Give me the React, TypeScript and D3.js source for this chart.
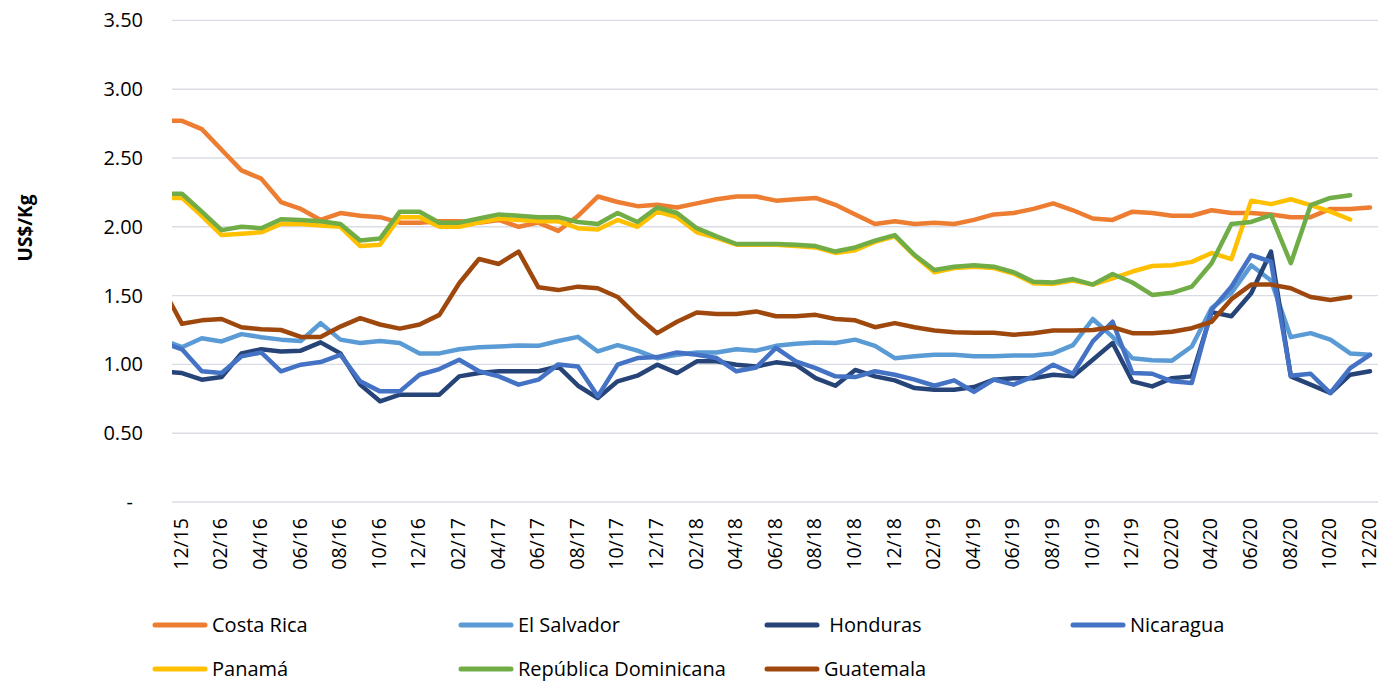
import { line, scaleLinear, scalePoint } from "d3";

// first month (11/15) sits just left of the plot area and is clipped away
const months = [
  "11/15", "12/15",
  "01/16", "02/16", "03/16", "04/16", "05/16", "06/16", "07/16", "08/16", "09/16", "10/16", "11/16", "12/16",
  "01/17", "02/17", "03/17", "04/17", "05/17", "06/17", "07/17", "08/17", "09/17", "10/17", "11/17", "12/17",
  "01/18", "02/18", "03/18", "04/18", "05/18", "06/18", "07/18", "08/18", "09/18", "10/18", "11/18", "12/18",
  "01/19", "02/19", "03/19", "04/19", "05/19", "06/19", "07/19", "08/19", "09/19", "10/19", "11/19", "12/19",
  "01/20", "02/20", "03/20", "04/20", "05/20", "06/20", "07/20", "08/20", "09/20", "10/20", "11/20", "12/20",
];

const tickLabels = [
  "12/15", "02/16", "04/16", "06/16", "08/16", "10/16", "12/16",
  "02/17", "04/17", "06/17", "08/17", "10/17", "12/17",
  "02/18", "04/18", "06/18", "08/18", "10/18", "12/18",
  "02/19", "04/19", "06/19", "08/19", "10/19", "12/19",
  "02/20", "04/20", "06/20", "08/20", "10/20", "12/20",
];

const yTicks = [0, 0.5, 1, 1.5, 2, 2.5, 3, 3.5];

const costaRica = [
  2.77, 2.77, 2.71, 2.56, 2.41, 2.35, 2.18, 2.13, 2.05, 2.1, 2.08, 2.07, 2.03, 2.03,
  2.04, 2.04, 2.03, 2.05, 2.0, 2.03, 1.97, 2.08, 2.22, 2.18, 2.15, 2.16,
  2.14, 2.17, 2.2, 2.22, 2.22, 2.19, 2.2, 2.21, 2.16, 2.09, 2.02, 2.04,
  2.02, 2.03, 2.02, 2.05, 2.09, 2.1, 2.13, 2.17, 2.12, 2.06, 2.05, 2.11,
  2.1, 2.08, 2.08, 2.12, 2.1, 2.1, 2.09, 2.07, 2.07, 2.13, 2.13, 2.14,
];

const elSalvador = [
  1.18, 1.125, 1.19, 1.167, 1.22, 1.198, 1.18, 1.17, 1.3, 1.18, 1.155, 1.17, 1.155, 1.08,
  1.08, 1.11, 1.125, 1.13, 1.138, 1.135, 1.17, 1.2, 1.094, 1.14, 1.1, 1.045,
  1.07, 1.087, 1.087, 1.11, 1.1, 1.135, 1.15, 1.16, 1.155, 1.18, 1.135, 1.045,
  1.06, 1.07, 1.07, 1.06, 1.06, 1.065, 1.065, 1.08, 1.14, 1.33, 1.2, 1.045,
  1.03, 1.027, 1.13, 1.41, 1.52, 1.72, 1.61, 1.198, 1.227, 1.18, 1.08, 1.07,
];

const honduras = [
  0.95, 0.937, 0.889, 0.908, 1.08, 1.11, 1.094, 1.1, 1.16, 1.08, 0.853, 0.732, 0.78, 0.78,
  0.78, 0.913, 0.937, 0.95, 0.95, 0.95, 0.985, 0.845, 0.756, 0.877, 0.918, 0.998,
  0.937, 1.022, 1.022, 0.998, 0.985, 1.015, 0.998, 0.9, 0.845, 0.96, 0.913, 0.884,
  0.828, 0.816, 0.816, 0.835, 0.889, 0.9, 0.9, 0.925, 0.913, 1.034, 1.155, 0.877,
  0.84, 0.9, 0.913, 1.38, 1.35, 1.517, 1.82, 0.913, 0.853, 0.792, 0.925, 0.95,
];

const nicaragua = [
  1.16, 1.11, 0.95, 0.937, 1.058, 1.087, 0.95, 0.998, 1.017, 1.07, 0.877, 0.804, 0.804, 0.925,
  0.966, 1.034, 0.95, 0.913, 0.853, 0.889, 1.0, 0.985, 0.768, 0.998, 1.046, 1.053,
  1.087, 1.07, 1.046, 0.95, 0.978, 1.12, 1.022, 0.973, 0.913, 0.908, 0.95, 0.925,
  0.889, 0.845, 0.884, 0.8, 0.889, 0.853, 0.913, 0.998, 0.932, 1.167, 1.31, 0.937,
  0.932, 0.877, 0.865, 1.396, 1.565, 1.795, 1.746, 0.918, 0.932, 0.792, 0.973, 1.07,
];

const panama = [
  2.21, 2.21, 2.08, 1.94, 1.95, 1.96, 2.02, 2.02, 2.01, 2.0, 1.86, 1.87, 2.07, 2.07,
  2.0, 2.0, 2.03, 2.06, 2.05, 2.04, 2.04, 1.99, 1.98, 2.05, 2.0, 2.11,
  2.07, 1.96, 1.92, 1.87, 1.87, 1.87, 1.86, 1.85, 1.81, 1.83, 1.89, 1.93,
  1.79, 1.67, 1.7, 1.71, 1.7, 1.66, 1.59, 1.585, 1.61, 1.58, 1.625, 1.675,
  1.715, 1.72, 1.745, 1.81, 1.765, 2.19, 2.165, 2.2, 2.157, 2.11, 2.053, null,
];

const repDominicana = [
  2.24, 2.24, 2.11, 1.976, 2.0, 1.99, 2.055, 2.05, 2.04, 2.02, 1.9, 1.915, 2.11, 2.11,
  2.03, 2.03, 2.06, 2.09, 2.08, 2.07, 2.07, 2.035, 2.02, 2.1, 2.035, 2.14,
  2.1, 1.99, 1.93, 1.875, 1.875, 1.875, 1.87, 1.86, 1.82, 1.85, 1.9, 1.94,
  1.795, 1.686, 1.71, 1.72, 1.71, 1.67, 1.6, 1.595, 1.62, 1.58, 1.657, 1.595,
  1.505, 1.52, 1.565, 1.735, 2.02, 2.035, 2.085, 1.735, 2.157, 2.21, 2.23, null,
];

const guatemala = [
  1.56, 1.295, 1.32, 1.33, 1.27, 1.256, 1.25, 1.2, 1.2, 1.275, 1.336, 1.29, 1.26, 1.29,
  1.36, 1.59, 1.766, 1.73, 1.82, 1.56, 1.54, 1.565, 1.553, 1.49, 1.35, 1.227,
  1.31, 1.377, 1.367, 1.367, 1.385, 1.35, 1.35, 1.36, 1.33, 1.32, 1.27, 1.3,
  1.27, 1.246, 1.234, 1.23, 1.23, 1.215, 1.227, 1.246, 1.246, 1.25, 1.27, 1.227,
  1.227, 1.237, 1.263, 1.31, 1.474, 1.58, 1.58, 1.553, 1.49, 1.468, 1.49, null,
];

const seriesNames = [
  "Costa Rica", "El Salvador", " Honduras", "Nicaragua",
  "Panamá", "República Dominicana", "Guatemala",
];
const seriesValues = [costaRica, elSalvador, honduras, nicaragua, panama, repDominicana, guatemala];
const seriesColors = ["#ED7D31", "#5B9BD5", "#264478", "#4472C4", "#FFC000", "#70AD47", "#9E480E"];

const FONT = "'Open Sans', 'Noto Sans', sans-serif";

export default function App() {
  const width = 1381;
  const height = 681;
  const plot = { left: 172, right: 1378, top: 20, bottom: 502 };

  const x = scalePoint<string>().domain(months).range([162.2, 1370]);
  const y = scaleLinear().domain([0, 3.5]).range([plot.bottom, plot.top + 0.4]);

  const path = line<number | null>()
    .defined((d) => d != null)
    .x((_, i) => x(months[i]) as number)
    .y((d) => y(d as number));

  const legendCols = [153, 459, 765, 1071];
  const legendRows = [625, 669];

  return (
    <svg
      width={width}
      height={height}
      style={{ position: "absolute", left: 0, top: 0, background: "#fff" }}
      fontFamily={FONT}
    >
      <defs>
        <clipPath id="plotClip">
          <rect x={plot.left} y={0} width={plot.right - plot.left + 6} height={plot.bottom + 10} />
        </clipPath>
      </defs>

      {/* gridlines + y labels */}
      {yTicks.map((t) => (
        <g key={t}>
          <line
            x1={plot.left}
            x2={plot.right}
            y1={y(t)}
            y2={y(t)}
            stroke="#D9DDE3"
            strokeWidth={1.4}
          />
          <text
            x={t === 0 ? 133 : 143}
            y={y(t)}
            dy="0.35em"
            textAnchor="end"
            fontSize={20}
            fill="#000"
          >
            {t === 0 ? "-" : t.toFixed(2)}
          </text>
        </g>
      ))}

      {/* y axis title */}
      <text
        transform="translate(25, 228) rotate(-90)"
        textAnchor="middle"
        dy="0.35em"
        fontSize={19}
        fontWeight="bold"
        fill="#000"
      >
        US$/Kg
      </text>

      {/* x labels */}
      {tickLabels.map((m) => (
        <text
          key={m}
          transform={`translate(${x(m)}, 518) rotate(-90)`}
          textAnchor="end"
          dy="0.3em"
          fontSize={19.5}
          fill="#000"
        >
          {m}
        </text>
      ))}

      {/* series */}
      <g clipPath="url(#plotClip)">
        {seriesValues.map((vals, i) => (
          <path
            key={seriesNames[i]}
            d={path(vals) ?? ""}
            fill="none"
            stroke={seriesColors[i]}
            strokeWidth={4.5}
            strokeLinejoin="round"
            strokeLinecap="round"
          />
        ))}
      </g>

      {/* legend */}
      {seriesNames.map((name, i) => {
        const lx = legendCols[i % 4];
        const ly = legendRows[Math.floor(i / 4)];
        return (
          <g key={name}>
            <line
              x1={lx + 2}
              x2={lx + 52}
              y1={ly}
              y2={ly}
              stroke={seriesColors[i]}
              strokeWidth={5}
              strokeLinecap="round"
            />
            <text
              x={lx + 59}
              y={ly}
              dy="0.35em"
              fontSize={20}
              fill="#000"
              style={{ whiteSpace: "pre" }}
            >
              {name}
            </text>
          </g>
        );
      })}
    </svg>
  );
}
